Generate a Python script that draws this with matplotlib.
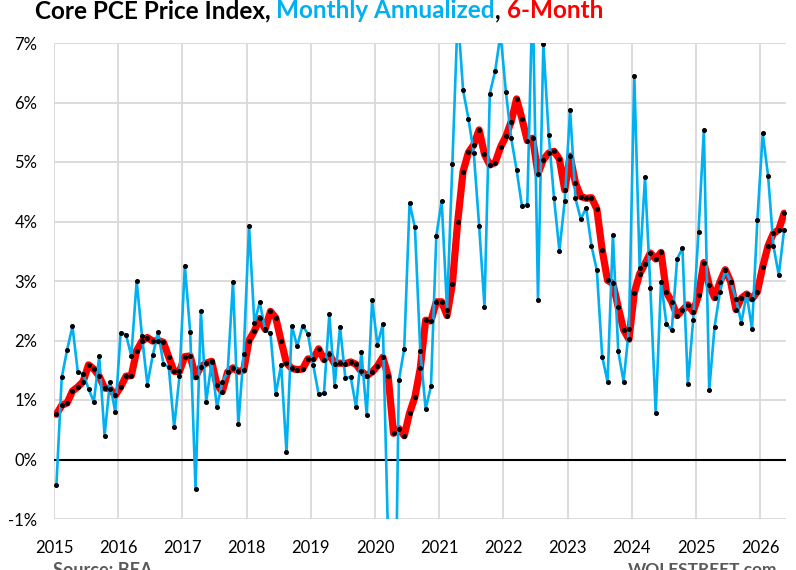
import numpy as np
import matplotlib
matplotlib.use("Agg")
import matplotlib.pyplot as plt

plt.rcParams['font.family'] = ['Lato', 'DejaVu Sans']

# monthly annualized core PCE, Jan 2015 .. May 2026
monthly = [
    -0.43, 1.38, 1.84, 2.24, 1.47, 1.44, 1.19, 0.97, 1.74, 0.40, 1.30, 0.79,   # 2015
    2.13, 2.10, 1.74, 3.00, 2.07, 1.26, 1.75, 2.14, 1.61, 1.55, 0.54, 1.40,    # 2016
    3.26, 2.14, -0.50, 2.49, 0.97, 1.64, 0.88, 1.30, 1.47, 2.99, 0.59, 1.78,   # 2017
    3.93, 2.29, 2.65, 2.18, 2.12, 1.10, 1.59, 0.12, 2.25, 1.90, 2.25, 2.11,    # 2018
    1.59, 1.10, 1.11, 2.44, 1.24, 2.23, 1.37, 1.39, 0.88, 1.81, 0.74, 2.68,    # 2019
    1.92, 2.28, -1.40, -5.00, 1.33, 1.86, 4.31, 3.90, 1.83, 0.85, 1.23, 3.76,  # 2020
    4.35, 2.52, 4.97, 7.50, 6.21, 5.73, 5.15, 3.93, 2.57, 6.15, 6.53, 7.15,    # 2021
    6.18, 5.40, 4.87, 4.26, 4.28, 7.90, 2.68, 6.99, 5.46, 4.39, 3.51, 4.35,    # 2022
    5.88, 4.39, 4.04, 4.23, 3.59, 3.18, 1.73, 1.31, 3.78, 1.82, 1.31, 2.20,    # 2023
    6.45, 3.22, 4.74, 2.89, 0.78, 2.99, 2.28, 2.17, 3.37, 3.55, 1.27, 2.34,    # 2024
    3.83, 5.54, 1.16, 2.23, 2.81, 3.19, 2.99, 2.70, 2.30, 2.78, 2.19, 4.03,    # 2025
    5.48, 4.77, 3.59, 3.10, 3.86,                                              # 2026
]

# 6-month annualized
six_month = [
    0.76, 0.91, 0.95, 1.15, 1.22, 1.31, 1.59, 1.52, 1.40, 1.20, 1.19, 1.08,    # 2015
    1.22, 1.40, 1.41, 1.83, 1.99, 2.05, 1.99, 2.00, 1.97, 1.72, 1.48, 1.48,    # 2016
    1.73, 1.74, 1.39, 1.56, 1.62, 1.65, 1.26, 1.14, 1.47, 1.54, 1.48, 1.50,    # 2017
    2.00, 2.16, 2.37, 2.19, 2.49, 2.38, 1.99, 1.62, 1.53, 1.51, 1.52, 1.69,    # 2018
    1.69, 1.86, 1.68, 1.77, 1.61, 1.62, 1.61, 1.64, 1.60, 1.48, 1.41, 1.47,    # 2019
    1.57, 1.72, 1.40, 0.44, 0.52, 0.40, 0.78, 1.05, 1.53, 2.34, 2.33, 2.65,    # 2020
    2.65, 2.42, 2.95, 4.00, 4.84, 5.16, 5.29, 5.54, 5.13, 4.95, 4.99, 5.25,    # 2021
    5.43, 5.68, 6.06, 5.73, 5.36, 5.40, 4.80, 5.04, 5.15, 5.18, 5.05, 4.53,    # 2022
    5.10, 4.65, 4.42, 4.39, 4.40, 4.21, 3.52, 3.01, 2.96, 2.56, 2.18, 2.02,    # 2023
    2.80, 3.12, 3.29, 3.47, 3.37, 3.48, 2.81, 2.65, 2.42, 2.51, 2.60, 2.48,    # 2024
    2.76, 3.31, 2.93, 2.72, 2.98, 3.19, 2.99, 2.52, 2.71, 2.78, 2.70, 2.82,    # 2025
    3.24, 3.59, 3.80, 3.86, 4.14,                                              # 2026
]

years = list(range(2015, 2027))
y_ticks = [7, 6, 5, 4, 3, 2, 1, 0, -1]
y_labels = ["7%", "6%", "5%", "4%", "3%", "2%", "1%", "0%", "-1%"]

BLUE = "#00b0f0"
RED = "#ff0000"
GRID = "#d9d9d9"

# month i -> fractional year (points sit a bit right of the Jan gridline)
x = 2015 + (np.arange(len(monthly)) + 0.45) / 12.0

fig = plt.figure(figsize=(7.96, 5.70), dpi=100)
ax = fig.add_axes([54 / 796, 1 - 519 / 570, (786 - 54) / 796, (519 - 43) / 570])

ax.plot(x, six_month, color=RED, lw=5.2, solid_capstyle='round', zorder=3)
ax.plot(x, monthly, color=BLUE, lw=1.9, zorder=4)
ax.plot(x, six_month, ls='none', marker='o', ms=2.6, color='black', zorder=5)
ax.plot(x, monthly, ls='none', marker='o', ms=2.6, color='black', zorder=5)

ax.axhline(0, color='black', lw=1.5, zorder=2)

ax.set_xlim(2015, 2026.40)
ax.set_ylim(-1, 7)
ax.set_xticks(years)
ax.set_xticklabels([str(y) for y in years])
ax.set_yticks(y_ticks)
ax.set_yticklabels(y_labels)
ax.grid(True, color=GRID, lw=1.3, zorder=0)
ax.set_axisbelow(True)
for s in ax.spines.values():
    s.set_visible(False)
ax.tick_params(axis='both', length=0, labelsize=12, colors='black')
ax.tick_params(axis='x', pad=15)
ax.tick_params(axis='y', pad=12)

# multi-coloured title, pieces placed one after another
parts = [("Core PCE Price Index, ", "black"),
         ("Monthly Annualized", BLUE),
         (", ", "black"),
         ("6-Month", RED)]
fig.canvas.draw()
renderer = fig.canvas.get_renderer()
xpos = 35 / 796
for txt, col in parts:
    t = fig.text(xpos, 1 - 18 / 570, txt, color=col, fontsize=17.5,
                 fontweight='bold', va='baseline', ha='left')
    bb = t.get_window_extent(renderer=renderer)
    xpos = bb.x1 / fig.bbox.width

fig.text(53 / 796, 1 - 562 / 570, "Source: BEA", color="#595959",
         fontsize=13, fontweight='bold', va='top', ha='left')
fig.text(777 / 796, 1 - 562 / 570, "WOLFSTREET.com", color="#595959",
         fontsize=12.5, fontweight='bold', va='top', ha='right')

fig.savefig("out.png", dpi=100)
